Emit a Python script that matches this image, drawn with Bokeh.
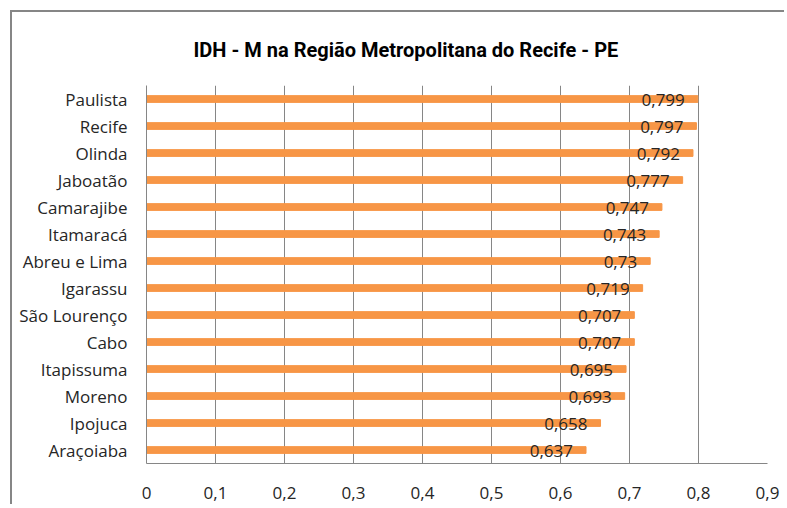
from bokeh.plotting import figure
from bokeh.models import ColumnDataSource, FixedTicker
from bokeh.embed import file_html
from bokeh.resources import INLINE
from bokeh.core.properties import value

cities = ["Paulista", "Recife", "Olinda", "Jaboatão", "Camarajibe", "Itamaracá",
          "Abreu e Lima", "Igarassu", "São Lourenço", "Cabo", "Itapissuma",
          "Moreno", "Ipojuca", "Araçoiaba"]
idh = [0.799, 0.797, 0.792, 0.777, 0.747, 0.743, 0.73, 0.719, 0.707, 0.707,
       0.695, 0.693, 0.658, 0.637]
labels = ["0,799", "0,797", "0,792", "0,777", "0,747", "0,743", "0,73", "0,719",
          "0,707", "0,707", "0,695", "0,693", "0,658", "0,637"]
x_ticks = [0, 0.1, 0.2, 0.3, 0.4, 0.5, 0.6, 0.7, 0.8, 0.9]
x_tick_labels = ["0", "0,1", "0,2", "0,3", "0,4", "0,5", "0,6", "0,7", "0,8", "0,9"]
title_text = "IDH - M na Região Metropolitana do Recife - PE"

src = ColumnDataSource(dict(city=cities, idh=idh, label=labels))

p = figure(y_range=list(reversed(cities)), x_range=(0, 0.9),
           width=774, height=494, output_backend="svg", toolbar_location=None,
           min_border_left=134, min_border_right=19, min_border_top=73,
           min_border_bottom=43)
p.margin = (10, 0, 0, 10)
p.styles = {"border-top": "2px solid #868686", "border-left": "2px solid #868686"}
p.outline_line_color = None
p.background_fill_color = "white"
p.border_fill_color = "white"

p.title.text = title_text
p.title.align = "left"
p.title.offset = 47
p.title.standoff = 47
p.title.text_font = "Roboto"
p.title.text_font_style = "bold"
p.title.text_font_size = "20px"
p.title.text_color = "black"

p.hbar(y="city", right="idh", left=0, height=0.25, color="#F79646", source=src)
p.text(x="idh", y="city", text="label", source=src, x_offset=-13, y_offset=1,
       text_align="right", text_baseline="middle", text_font=value("Open Sans"),
       text_font_size="17px", text_color="#262626")

p.xaxis.ticker = FixedTicker(ticks=x_ticks)
p.xaxis.major_label_overrides = {t: l for t, l in zip(x_ticks, x_tick_labels)}
for ax in (p.xaxis[0], p.yaxis[0]):
    ax.major_tick_line_color = None
    ax.minor_tick_line_color = None
    ax.axis_line_color = "#868686"
    ax.major_label_text_font = "Open Sans"
    ax.major_label_text_font_size = "17px"
    ax.major_label_text_color = "#262626"
p.xaxis.major_label_standoff = 17
p.yaxis.major_label_standoff = 13
p.xgrid.grid_line_color = "#868686"
p.ygrid.grid_line_color = None
p.y_range.range_padding = 0

open("out.html", "w").write(file_html(p, INLINE))
